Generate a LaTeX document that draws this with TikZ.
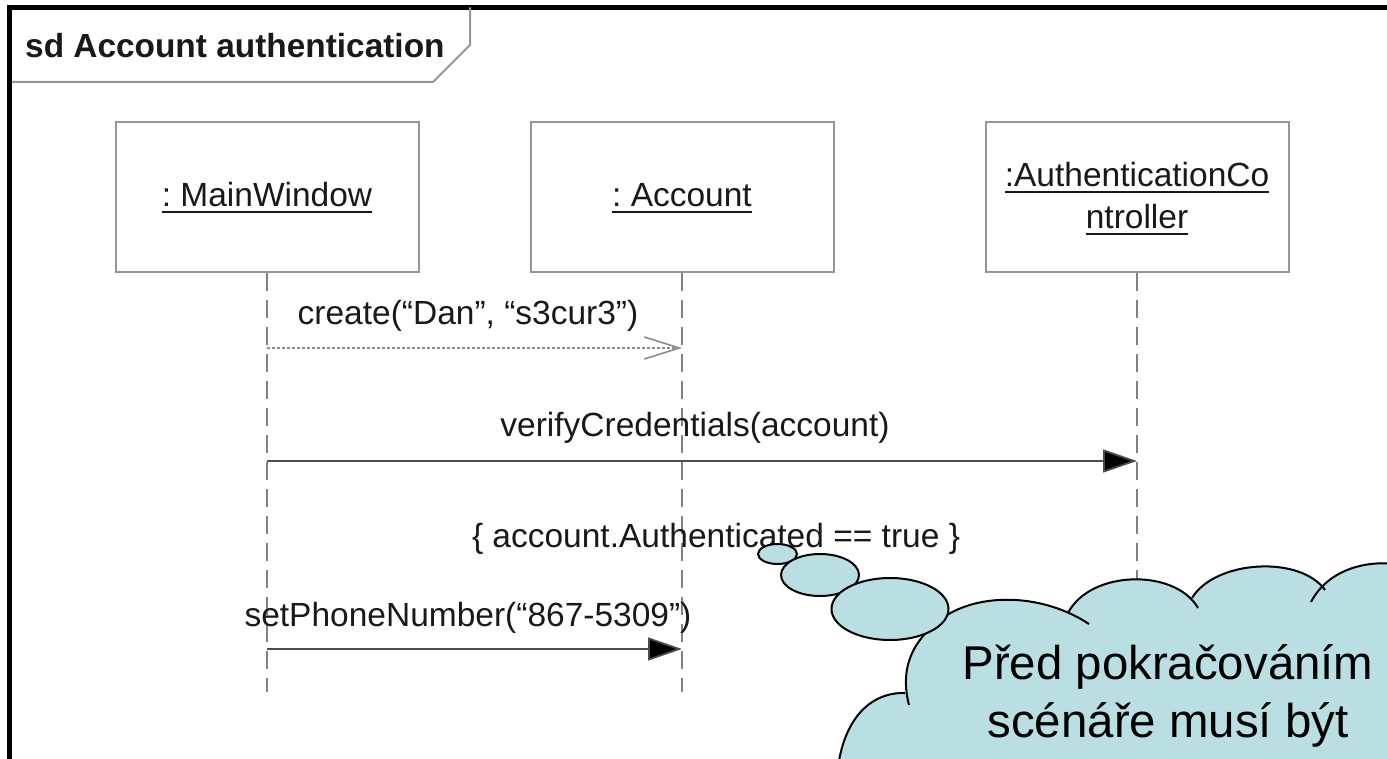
\documentclass[tikz,border=0pt]{standalone}
\usepackage{fontspec}
\setmainfont{Liberation Sans}
\usetikzlibrary{arrows.meta}
\frenchspacing
\definecolor{cloudfill}{RGB}{186,223,227}
\definecolor{boxgray}{RGB}{150,150,150}
\definecolor{lifegray}{RGB}{130,130,130}
\definecolor{txtcol}{RGB}{25,25,25}
\newcommand\myuline[1]{\vtop{\hbox{#1}\kern3.5pt\hrule height 1.8pt}}
\tikzset{
  lbl/.style={font=\fontsize{33.5}{40}\selectfont, text=txtcol, inner sep=0pt, anchor=base},
  lifebox/.style={draw=boxgray, line width=2pt, fill=white, minimum width=303pt, minimum height=150pt, inner sep=0pt},
  lifeline/.style={draw=lifegray, line width=1.6pt, dash pattern=on 18pt off 9pt},
  syncmsg/.style={draw=black!70, line width=1.8pt, -{Triangle[length=34pt,width=23pt,fill=black]}},
  createmsg/.style={draw=black!45, line width=1.6pt, dash pattern=on 3pt off 2pt, -{Straight Barb[length=35pt,width=22pt,line width=1.6pt]}},
  cloudline/.style={draw=black, line width=2pt},
  bubble/.style={draw=black, line width=2pt, fill=cloudfill},
}
\begin{document}
\begin{tikzpicture}[x=1pt,y=-1pt]
\useasboundingbox (0,0) rectangle (1387,759);
\clip (0,0) rectangle (1387,759);
\fill[white] (0,0) rectangle (1387,759);

% frame
\draw[line width=5pt] (9.5,800) -- (9.5,7.5) -- (1420,7.5);
\draw[draw=boxgray, line width=2pt] (12,82) -- (433,82) -- (470,45) -- (470,7.5);
\node[lbl, anchor=base west, font=\bfseries\fontsize{33.4}{40}\selectfont] (title) at (25,58) {sd Account authentication};

% lifeline boxes
\node[lifebox] (mw) at (267,197) {};
\node[lifebox] (acc) at (682,197) {};
\node[lifebox] (ac) at (1137,197) {};
\node[lbl] (mwt) at (267,207) {\myuline{: MainWindow}};
\node[lbl] (acct) at (682,207) {\myuline{: Account}};
\node[lbl] (act1) at (1137,187) {\myuline{:AuthenticationCo}};
\node[lbl] (act2) at (1137,229) {\myuline{ntroller}};

% lifelines
\coordinate (mwend) at (267,692);
\coordinate (accend) at (682,692);
\coordinate (acend) at (1137,700);
\draw[lifeline] (mw.south) -- (mwend);
\draw[lifeline] (acc.south) -- (accend);
\draw[lifeline] (ac.south) -- (acend);

% messages
\coordinate (m1s) at (267,348); \coordinate (m1e) at (682,348);
\coordinate (m2s) at (267,461); \coordinate (m2e) at (1137,461);
\coordinate (m3s) at (267,649); \coordinate (m3e) at (682,649);
\draw[createmsg] (m1s) -- (m1e);
\draw[syncmsg] (m2s) -- (m2e);
\draw[syncmsg] (m3s) -- (m3e);
\node[lbl] (m1t) at (468,325) {create(“Dan”, “s3cur3”)};
\node[lbl] (m2t) at (695,436) {verifyCredentials(account)};
\node[lbl] (cons) at (716,547) {\{ account.Authenticated == true \}};
\node[lbl] (m3t) at (468,626) {setPhoneNumber(“867-5309”)};

% cloud
\fill[cloudfill] (836,790) .. controls (838,720) and (870,692) .. (905,693)
  -- (909,705) .. controls (900,670) and (910,640) .. (947,615)
  .. controls (985,592) and (1045,595) .. (1089,624)
  -- (1068,613) .. controls (1090,570) and (1175,568) .. (1198,608)
  -- (1192,598) .. controls (1215,560) and (1300,555) .. (1322,587)
  -- (1311,602) .. controls (1330,565) and (1380,555) .. (1420,570)
  -- (1420,790) -- cycle;
\draw[cloudline] (836,790) .. controls (838,720) and (870,692) .. (905,693);
\draw[cloudline] (909,705) .. controls (900,670) and (910,640) .. (947,615)
  .. controls (985,592) and (1045,595) .. (1089,624);
\draw[cloudline] (1068,613) .. controls (1090,570) and (1175,568) .. (1198,608);
\draw[cloudline] (1192,598) .. controls (1215,560) and (1300,555) .. (1325,590);
\draw[cloudline] (1311,602) .. controls (1330,565) and (1380,555) .. (1420,570);
\draw[bubble] (777.5,554) ellipse [x radius=19.5pt, y radius=10pt];
\draw[bubble] (820,575) ellipse [x radius=39pt, y radius=21pt];
\draw[bubble] (890,609) ellipse [x radius=58.5pt, y radius=31pt];
\node[lbl, font=\fontsize{47.4}{58}\selectfont, text=black] (c1) at (1168,679) {Před pokračováním};
\node[lbl, font=\fontsize{47.4}{58}\selectfont, text=black] (c2) at (1168,737) {scénáře musí být};
\end{tikzpicture}
\end{document}
